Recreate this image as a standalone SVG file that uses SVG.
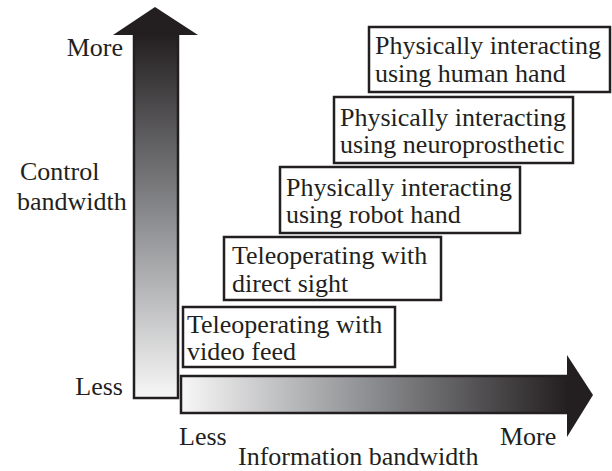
<svg xmlns="http://www.w3.org/2000/svg" width="612" height="471" viewBox="0 0 612 471">
<style>
text{font-family:'Liberation Serif','Times New Roman',serif;font-size:26px;fill:#231f20}
.box{fill:#fff;stroke:#231f20;stroke-width:2.5}
.end{text-anchor:end}
</style>
<defs>
<linearGradient id="gv" x1="0" y1="0" x2="0" y2="1">
<stop offset="0" stop-color="#231f20"/>
<stop offset="0.5" stop-color="#8a8b8e"/>
<stop offset="1" stop-color="#f7f7f7"/>
</linearGradient>
<linearGradient id="gh" x1="0" y1="0" x2="1" y2="0">
<stop offset="0" stop-color="#f7f7f7"/>
<stop offset="0.5" stop-color="#8a8b8e"/>
<stop offset="1" stop-color="#231f20"/>
</linearGradient>
</defs>
<g id="axes">
<g id="y-axis">
<rect x="134" y="34" width="44" height="364" fill="url(#gv)" stroke="#231f20" stroke-width="2.5"/>
<polygon points="113,35 155,7 198,35" fill="#231f20"/>
</g>
<g id="x-axis">
<rect x="181" y="376" width="387" height="37" fill="url(#gh)" stroke="#231f20" stroke-width="2.5"/>
<polygon points="567,355 593,395 567,437" fill="#231f20"/>
</g>
</g>
<g id="labels">
<text x="123" y="56" class="end">More</text>
<text x="20" y="180">Control</text>
<text x="17" y="210">bandwidth</text>
<text x="123" y="395" class="end">Less</text>
<text x="179" y="445">Less</text>
<text x="500" y="445">More</text>
<text x="238" y="465">Information bandwidth</text>
</g>
<g id="n1"><rect class="box" x="183" y="307" width="212" height="60"/><text x="187" y="333">Teleoperating with</text><text x="187" y="360">video feed</text></g>
<g id="n2"><rect class="box" x="224" y="237" width="217" height="63"/><text x="232" y="264">Teleoperating with</text><text x="232" y="292">direct sight</text></g>
<g id="n3"><rect class="box" x="280" y="167" width="240" height="66"/><text x="286" y="196">Physically interacting</text><text x="286" y="223">using robot hand</text></g>
<g id="n4"><rect class="box" x="334" y="97" width="239" height="66"/><text x="340" y="126">Physically interacting</text><text x="340" y="153">using neuroprosthetic</text></g>
<g id="n5"><rect class="box" x="369" y="27" width="241" height="65"/><text x="375" y="54">Physically interacting</text><text x="375" y="82">using human hand</text></g>
</svg>
